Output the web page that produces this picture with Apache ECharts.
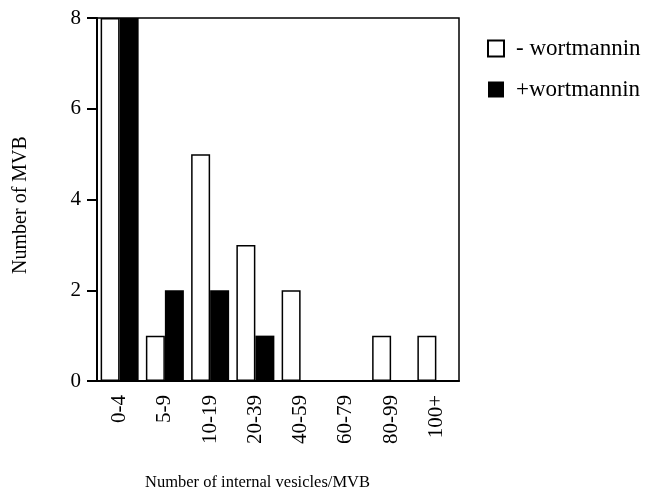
<!DOCTYPE html>
<html>
<head>
<meta charset="utf-8">
<script src="https://cdn.jsdelivr.net/npm/echarts@6/dist/echarts.min.js"></script>
<style>html,body{margin:0;padding:0;background:#fff}#c{width:650px;height:497px}</style>
</head>
<body>
<div id="c"></div>
<script>
const categories = ['0-4', '5-9', '10-19', '20-39', '40-59', '60-79', '80-99', '100+'];
const minusWortmannin = [8, 1, 5, 3, 2, 0, 1, 1];
const plusWortmannin = [8, 2, 2, 1, 0, 0, 0, 0];
const seriesNames = ['- wortmannin', '+wortmannin'];
const yTicks = [0, 2, 4, 6, 8];
const xTitle = 'Number of internal vesicles/MVB';
const yTitle = 'Number of MVB';

const font = 'Liberation Serif';
const chart = echarts.init(document.getElementById('c'), null, {renderer: 'canvas'});
chart.setOption({
  animation: false,
  backgroundColor: '#fff',
  grid: {left: 97, right: 191, top: 18, bottom: 116, show: true, borderColor: '#000', borderWidth: 1.5, backgroundColor: 'transparent'},
  legend: {
    orient: 'vertical', left: 487, top: 37, padding: 0, icon: 'rect', itemWidth: 16, itemHeight: 16, itemGap: 18,
    textStyle: {fontFamily: font, fontSize: 23, color: '#000', padding: [0, 0, 0, 7]},
    data: seriesNames
  },
  xAxis: {
    type: 'category', data: categories,
    axisLine: {lineStyle: {color: '#000', width: 2}},
    axisTick: {alignWithLabel: true, length: 10, lineStyle: {color: '#000', width: 2}},
    axisLabel: {rotate: 90, fontFamily: font, fontSize: 21, color: '#000', margin: 14},
    splitLine: {show: false}
  },
  yAxis: {
    type: 'value', min: 0, max: 8, interval: 2,
    axisLine: {show: true, lineStyle: {color: '#000', width: 2}},
    axisTick: {show: true, length: 10, lineStyle: {color: '#000', width: 2}},
    axisLabel: {fontFamily: font, fontSize: 21, color: '#000', margin: 16,
      formatter: v => yTicks.includes(v) ? String(v) : ''},
    splitLine: {show: false}
  },
  graphic: [{
    type: 'text', left: 145, top: 474,
    style: {text: xTitle, font: '16.5px "Liberation Serif"', fill: '#000'}
  }, {
    type: 'text', x: 21, y: 205, rotation: Math.PI / 2,
    style: {text: yTitle, font: '20px "Liberation Serif"', fill: '#000', align: 'center', verticalAlign: 'middle'}
  }],
  series: [
    {name: seriesNames[0], type: 'bar', data: minusWortmannin, barWidth: 19, barGap: '0%',
     itemStyle: {color: '#fff', borderColor: '#000', borderWidth: 1.5}},
    {name: seriesNames[1], type: 'bar', data: plusWortmannin, barWidth: 19, barGap: '0%',
     itemStyle: {color: '#000', borderColor: '#000', borderWidth: 0}}
  ]
});
</script>
</body>
</html>
